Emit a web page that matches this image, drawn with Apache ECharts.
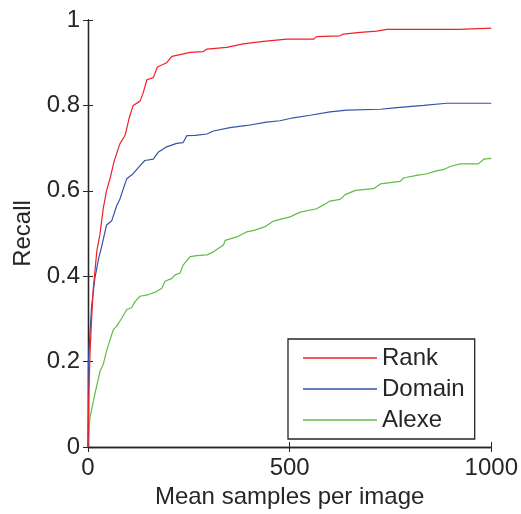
<!DOCTYPE html>
<html>
<head>
<meta charset="utf-8">
<script src="https://cdn.jsdelivr.net/npm/echarts@6/dist/echarts.min.js"></script>
<style>
    html, body { margin: 0; padding: 0; background: #fff; }
    #main { width: 521px; height: 514px; }
</style>
</head>
<body>
<div id="main"></div>
<script>
var seriesNames = ['Rank', 'Domain', 'Alexe'];
var xTicks = [0, 500, 1000];
var yTicks = [0, 0.2, 0.4, 0.6, 0.8, 1];

// Rank
var rankX = [0, 2, 5, 9, 13, 17, 22, 26, 30, 34, 38, 46, 55, 65, 79, 92, 102, 112, 129, 137, 146, 162, 172, 195, 208, 228, 253, 286, 295, 344, 385, 435, 493, 559, 567, 625, 633, 675, 716, 741, 919, 923, 1000];
var rankY = [0, 0.12, 0.22, 0.30, 0.37, 0.41, 0.46, 0.48, 0.50, 0.53, 0.56, 0.60, 0.63, 0.67, 0.71, 0.73, 0.77, 0.80, 0.81, 0.83, 0.86, 0.865, 0.89, 0.90, 0.915, 0.919, 0.924, 0.926, 0.932, 0.936, 0.944, 0.950, 0.955, 0.955, 0.961, 0.963, 0.967, 0.971, 0.974, 0.978, 0.978, 0.981, 0.981];

// Domain
var domainX = [0, 1, 5, 9, 17, 26, 34, 46, 59, 71, 79, 84, 96, 112, 129, 141, 162, 174, 195, 220, 236, 245, 266, 295, 311, 352, 394, 443, 476, 509, 551, 600, 642, 725, 766, 832, 890, 1000];
var domainY = [0, 0.2, 0.27, 0.33, 0.395, 0.44, 0.47, 0.52, 0.53, 0.565, 0.58, 0.595, 0.628, 0.64, 0.659, 0.671, 0.674, 0.69, 0.703, 0.711, 0.713, 0.729, 0.730, 0.733, 0.740, 0.748, 0.753, 0.761, 0.764, 0.771, 0.777, 0.785, 0.789, 0.791, 0.795, 0.800, 0.805, 0.805];

// Alexe
var alexeX = [0, 5, 17, 30, 38, 46, 59, 63, 71, 84, 96, 108, 117, 129, 150, 170, 183, 191, 208, 216, 228, 236, 253, 270, 295, 311, 323, 336, 340, 369, 394, 414, 439, 460, 476, 501, 526, 567, 584, 600, 625, 638, 663, 708, 725, 774, 782, 815, 841, 857, 882, 898, 923, 968, 981, 1000];
var alexeY = [0, 0.07, 0.124, 0.178, 0.194, 0.225, 0.264, 0.275, 0.283, 0.302, 0.322, 0.326, 0.341, 0.353, 0.357, 0.364, 0.372, 0.388, 0.395, 0.403, 0.407, 0.426, 0.446, 0.448, 0.45, 0.457, 0.465, 0.473, 0.484, 0.492, 0.504, 0.508, 0.516, 0.529, 0.533, 0.539, 0.550, 0.558, 0.567, 0.576, 0.580, 0.591, 0.601, 0.605, 0.616, 0.622, 0.63, 0.636, 0.640, 0.645, 0.650, 0.657, 0.663, 0.663, 0.674, 0.676];

var colors = ['#ee2128', '#3652a6', '#62bb46'];

function pairs(xs, ys) {
    var out = [];
    for (var i = 0; i < xs.length; i++) {
        out.push([xs[i], ys[i]]);
    }
    return out;
}

var font = 'Liberation Sans, Arial, sans-serif';
var ink = '#262626';

var frameAxis = {
    axisLine: { show: true, lineStyle: { color: ink, width: 1.3 } },
    axisTick: { show: true, inside: true, length: 5, lineStyle: { color: ink, width: 1 } },
    splitLine: { show: false }
};

var chart = echarts.init(document.getElementById('main'), null, { renderer: 'canvas' });
var option = {
    animation: false,
    backgroundColor: '#fff',
    color: colors,
    grid: { left: 88, right: 29, top: 20, bottom: 64 },
    legend: {
        data: seriesNames,
        orient: 'vertical',
        left: 288,
        top: 339,
        padding: [7, 10, 7, 15],
        icon: 'rect',
        itemWidth: 74,
        itemHeight: 1.3,
        itemGap: 7,
        itemTextGap: 10,
        borderColor: ink,
        borderWidth: 1.3,
        borderRadius: 0,
        backgroundColor: '#fff',
        textStyle: { fontFamily: font, fontSize: 24, lineHeight: 24, color: ink }
    },
    xAxis: [
        Object.assign({
            type: 'value', min: xTicks[0], max: xTicks[xTicks.length - 1], interval: 500,
            position: 'bottom',
            name: 'Mean samples per image', nameLocation: 'middle', nameGap: 38,
            nameTextStyle: { fontFamily: font, fontSize: 24, color: ink },
            axisLabel: {
                show: true, margin: 9, fontFamily: font, fontSize: 24, color: ink,
                formatter: function (v) { return String(v); }
            }
        }, frameAxis),
        Object.assign({
            type: 'value', min: xTicks[0], max: xTicks[xTicks.length - 1], interval: 500,
            position: 'top',
            axisLabel: { show: false }
        }, frameAxis)
    ],
    yAxis: [
        Object.assign({
            type: 'value', min: yTicks[0], max: yTicks[yTicks.length - 1], interval: 0.2,
            position: 'left',
            name: 'Recall', nameLocation: 'middle', nameGap: 47,
            nameTextStyle: { fontFamily: font, fontSize: 24, color: ink },
            axisLabel: { show: true, margin: 8, fontFamily: font, fontSize: 24, color: ink }
        }, frameAxis),
        Object.assign({
            type: 'value', min: yTicks[0], max: yTicks[yTicks.length - 1], interval: 0.2,
            position: 'right',
            axisLabel: { show: false }
        }, frameAxis)
    ],
    series: [
        { name: seriesNames[0], type: 'line', symbol: 'none', data: pairs(rankX, rankY), lineStyle: { width: 1.2 }, z: 3 },
        { name: seriesNames[1], type: 'line', symbol: 'none', data: pairs(domainX, domainY), lineStyle: { width: 1.2 }, z: 2 },
        { name: seriesNames[2], type: 'line', symbol: 'none', data: pairs(alexeX, alexeY), lineStyle: { width: 1.2 }, z: 1 }
    ]
};
chart.setOption(option);
</script>
</body>
</html>
